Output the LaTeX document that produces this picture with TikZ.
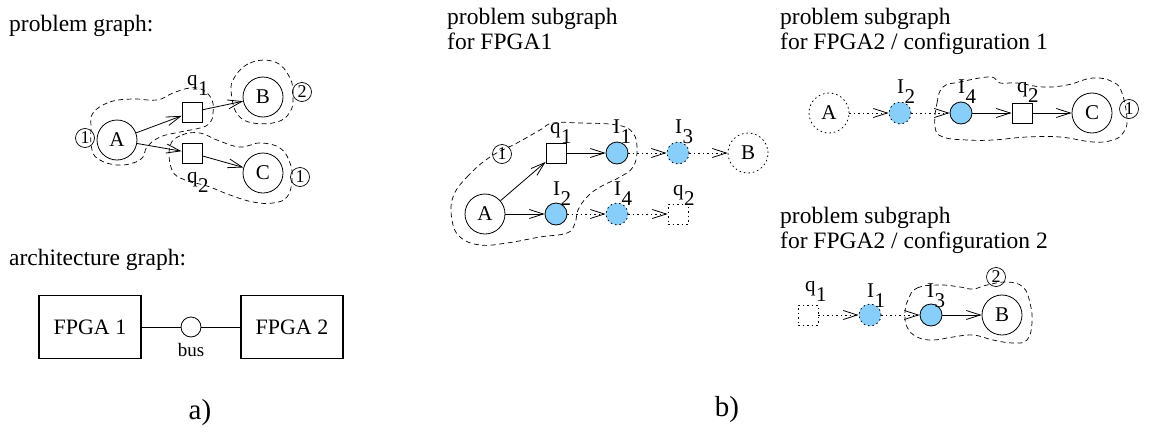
\documentclass[tikz,border=0pt]{standalone}
\usepackage{fontspec}
\setmainfont{Liberation Serif}
\usetikzlibrary{arrows.meta}
\definecolor{ifblue}{RGB}{135,206,250}
\newcommand{\sbs}[1]{\kern0.5pt\raisebox{-10pt}{#1}}
\begin{document}
\begin{tikzpicture}[x=1pt,y=-1pt,
  every node/.style={font=\fontsize{21}{25}\selectfont},
  title/.style={anchor=base west, inner sep=0, font=\fontsize{23.5}{27}\selectfont},
  dotline/.style={dash pattern=on 1.5pt off 3pt},
  big/.style={circle, draw, minimum size=40pt, inner sep=0, line width=0.8pt},
  bigdot/.style={big, dotline},
  sq/.style={rectangle, draw, minimum size=20pt, inner sep=0, line width=0.8pt},
  sqdot/.style={sq, dotline},
  ifc/.style={circle, draw, fill=ifblue, minimum size=22pt, inner sep=0, line width=0.8pt},
  ifcdot/.style={ifc, dotline},
  cnum/.style={circle, draw, minimum size=19pt, inner sep=0, line width=0.7pt, font=\fontsize{18}{18}\selectfont},
  lbl/.style={anchor=base west, inner sep=0, font=\fontsize{21}{25}\selectfont},
  arr/.style={-{Straight Barb[length=14pt,width=9pt]}, line width=0.8pt},
  darr/.style={arr, dotline},
  blob/.style={dash pattern=on 5pt off 3.5pt, line width=0.7pt},
  fpgabox/.style={draw, line width=1.6pt, minimum width=102pt, minimum height=63pt, inner sep=0, font=\fontsize{22}{26}\selectfont}
]
\useasboundingbox (0,0) rectangle (1151,434);

% ---------- a) problem graph ----------
\node[title] (t1) at (9,31) {problem graph:};
\node[cnum] (pa1) at (85,138) {1};
\node[big] (pA) at (117,140) {A};
\node[sq] (pq1) at (192,112) {};
\node[big] (pB) at (263,97) {B};
\node[cnum] (pb2) at (302,92) {2};
\node[sq] (pq2) at (192,153) {};
\node[big] (pC) at (263,173) {C};
\node[cnum] (pc1) at (300,177) {1};
\node[lbl] (lpq1) at (187,85) {q\sbs{1}};
\node[lbl] (lpq2) at (187,182) {q\sbs{2}};
\draw[arr] (pA) -- (pq1);
\draw[arr] (pq1) -- (pB);
\draw[arr] (pA) -- (pq2);
\draw[arr] (pq2) -- (pC);
\draw[blob] plot[smooth cycle, tension=0.7] coordinates {(93,113) (110,102) (133,99) (157,100) (173,93) (190,88) (203,90) (212,100) (213,113) (210,123) (200,128) (180,132) (160,137) (147,147) (143,157) (133,163) (117,165) (100,160) (92,150) (91,128)};
\draw[blob] plot[smooth cycle, tension=0.7] coordinates {(233,80) (250,63) (275,62) (290,78) (293,97) (290,112) (277,122) (253,123) (238,115) (232,98)};
\draw[blob] plot[smooth cycle, tension=0.7] coordinates {(170,146) (182,135) (200,133) (217,140) (240,147) (260,143) (280,148) (290,163) (292,180) (287,197) (273,203) (253,202) (230,195) (207,186) (185,180) (172,170)};

% ---------- a) architecture graph ----------
\node[title] (t2) at (9,265) {architecture graph:};
\node[fpgabox] (f1) at (90,327) {FPGA 1};
\node[circle, draw, minimum size=20pt, inner sep=0, line width=0.8pt] (bus) at (191,327) {};
\node[font=\fontsize{19}{20}\selectfont, inner sep=0] (busl) at (191,350) {bus};
\node[fpgabox] (f2) at (292,327) {FPGA 2};
\draw[line width=0.8pt] (f1) -- (bus) -- (f2);
\node[font=\fontsize{29}{30}\selectfont, inner sep=0] (la) at (200,413) {a)};

% ---------- b) FPGA1 ----------
\node[title] (t3a) at (447,24) {problem subgraph};
\node[title] (t3b) at (447,49) {for FPGA1};
\node[cnum] (fa1) at (502,154) {1};
\node[big] (fA) at (485,214) {A};
\node[sq] (fq1) at (556,153) {};
\node[ifc] (fI1) at (617,153) {};
\node[ifcdot] (fI3) at (678,153) {};
\node[bigdot] (fB) at (748,153) {B};
\node[ifc] (fI2) at (556,214) {};
\node[ifcdot] (fI4) at (617,214) {};
\node[sqdot] (fq2) at (678,214) {};
\node[lbl] (lfq1) at (550,133) {q\sbs{1}};
\node[lbl] (lfI1) at (613,133) {I\sbs{1}};
\node[lbl] (lfI3) at (675,133) {I\sbs{3}};
\node[lbl] (lfI2) at (553,195) {I\sbs{2}};
\node[lbl] (lfI4) at (614,195) {I\sbs{4}};
\node[lbl] (lfq2) at (673,195) {q\sbs{2}};
\draw[arr] (fA) -- (fq1);
\draw[arr] (fq1) -- (fI1);
\draw[darr] (fI1) -- (fI3);
\draw[darr] (fI3) -- (fB);
\draw[arr] (fA) -- (fI2);
\draw[darr] (fI2) -- (fI4);
\draw[darr] (fI4) -- (fq2);
\draw[blob] plot[smooth cycle, tension=0.7] coordinates {(453,197) (467,177) (490,157) (517,143) (540,130) (553,123) (580,123) (617,125) (633,133) (637,150) (633,167) (620,177) (600,187) (587,197) (578,210) (575,223) (567,233) (540,237) (507,243) (480,245) (460,237) (452,220)};

% ---------- b) FPGA2 / configuration 1 ----------
\node[title] (t4a) at (780,24) {problem subgraph};
\node[title] (t4b) at (780,49) {for FPGA2 / configuration 1};
\node[bigdot] (cA) at (829,113) {A};
\node[ifcdot] (cI2) at (900,113) {};
\node[ifc] (cI4) at (961,113) {};
\node[sq] (cq2) at (1022,113) {};
\node[big] (cC) at (1092,113) {C};
\node[cnum] (cc1) at (1129,109) {1};
\node[lbl] (lcI2) at (897,93) {I\sbs{2}};
\node[lbl] (lcI4) at (958,93) {I\sbs{4}};
\node[lbl] (lcq2) at (1017,92) {q\sbs{2}};
\draw[darr] (cA) -- (cI2);
\draw[darr] (cI2) -- (cI4);
\draw[arr] (cI4) -- (cq2);
\draw[arr] (cq2) -- (cC);
\draw[blob] plot[smooth cycle, tension=0.7] coordinates {(935,127) (937,103) (943,87) (960,82) (990,77) (1000,83) (1017,83) (1043,87) (1067,85) (1093,78) (1113,82) (1122,93) (1127,120) (1123,133) (1113,140) (1093,142) (1060,137) (1027,137) (993,140) (967,140) (943,137)};

% ---------- b) FPGA2 / configuration 2 ----------
\node[title] (t5a) at (780,223) {problem subgraph};
\node[title] (t5b) at (780,248) {for FPGA2 / configuration 2};
\node[sqdot] (dq1) at (808,315) {};
\node[ifcdot] (dI1) at (870,315) {};
\node[ifc] (dI3) at (931,315) {};
\node[big] (dB) at (1002,315) {B};
\node[cnum] (db2) at (996,277) {2};
\node[lbl] (ldq1) at (805,291) {q\sbs{1}};
\node[lbl] (ldI1) at (867,297) {I\sbs{1}};
\node[lbl] (ldI3) at (927,297) {I\sbs{3}};
\draw[darr] (dq1) -- (dI1);
\draw[darr] (dI1) -- (dI3);
\draw[arr] (dI3) -- (dB);
\draw[blob] plot[smooth cycle, tension=0.7] coordinates {(908,300) (917,288) (940,285) (960,287) (973,289) (987,285) (1007,282) (1023,287) (1030,303) (1032,323) (1027,340) (1013,343) (993,340) (973,335) (953,337) (933,340) (917,337) (907,327) (905,313)};

\node[font=\fontsize{29}{30}\selectfont, inner sep=0] (lb) at (727,410) {b)};
\end{tikzpicture}
\end{document}
